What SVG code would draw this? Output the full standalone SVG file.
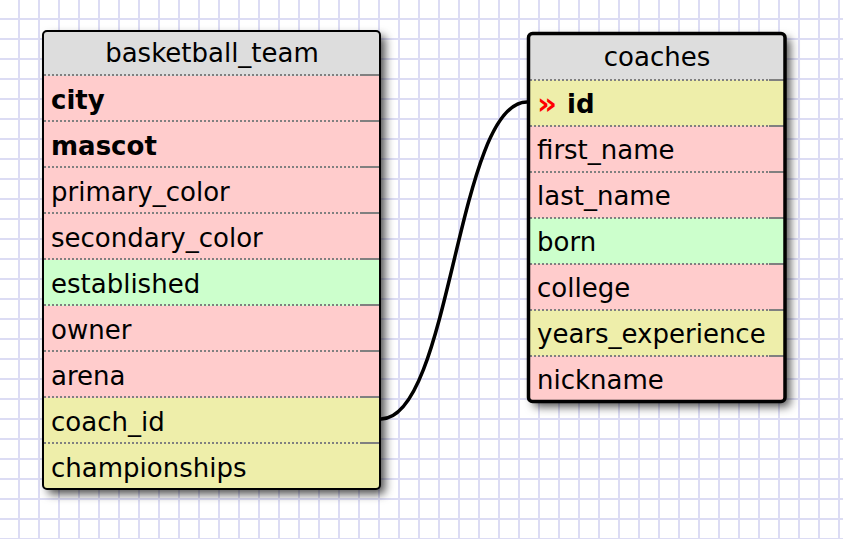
<svg xmlns="http://www.w3.org/2000/svg" width="843" height="539" viewBox="0 0 843 539">
<defs>
<pattern id="grid" x="0" y="0" width="20" height="20" patternUnits="userSpaceOnUse">
<rect width="20" height="20" fill="#ffffff"/>
<path d="M19,0V20M0,19H20" stroke="#dcdcf4" stroke-width="2"/>
</pattern>
<filter id="sh" x="-10%" y="-10%" width="130%" height="130%">
<feDropShadow dx="5" dy="5" stdDeviation="5" flood-color="#000" flood-opacity="0.7"/>
</filter>
<clipPath id="c1"><rect x="43" y="31" width="337" height="458" rx="4"/></clipPath>
<clipPath id="c2"><rect x="528.5" y="33.5" width="256.5" height="368" rx="4"/></clipPath>
</defs>
<style>
.t{font-family:"DejaVu Sans",Verdana,sans-serif;font-size:26px;fill:#000}
.b{font-weight:bold}
.h{text-anchor:middle}
.hd{fill:#dddddd}
.pk{fill:#ffcccc}
.gr{fill:#ccffcc}
.yl{fill:#eeeeaa}
.dot{stroke:#808080;stroke-width:2;stroke-dasharray:2 2;fill:none}
.sol{stroke:#808080;stroke-width:2;fill:none}
.bd{fill:none;stroke:#000}
.con{fill:none;stroke:#000;stroke-width:3.5}
</style>
<rect width="843" height="539" fill="url(#grid)"/>

<g id="basketball_team">
<rect x="43" y="31" width="337" height="458" rx="4" fill="#ffcccc" filter="url(#sh)"/>
<g clip-path="url(#c1)">
<rect class="hd" x="43" y="31" width="337" height="45"/>
<rect class="pk" x="43" y="76" width="337" height="184"/>
<rect class="gr" x="43" y="260" width="337" height="46"/>
<rect class="pk" x="43" y="306" width="337" height="92"/>
<rect class="yl" x="43" y="398" width="337" height="91"/>
</g>
<path class="dot" d="M44,75H360M44,121H360M44,167H360M44,213H360M44,259H360M44,305H360M44,351H360M44,397H360M44,443H360"/>
<path class="sol" d="M360,75H380M360,121H380M360,167H380M360,213H380M360,259H380M360,305H380M360,351H380M360,397H380M360,443H380"/>
<rect class="bd" x="43" y="31" width="337" height="458" rx="4" stroke-width="2"/>
<text class="t h" x="212" y="62">basketball_team</text>
<text class="t b" x="51" y="109">city</text>
<text class="t b" x="51" y="155">mascot</text>
<text class="t" x="51" y="201">primary_color</text>
<text class="t" x="51" y="247">secondary_color</text>
<text class="t" x="51" y="293">established</text>
<text class="t" x="51" y="339">owner</text>
<text class="t" x="51" y="385">arena</text>
<text class="t" x="51" y="431">coach_id</text>
<text class="t" x="51" y="477">championships</text>
</g>

<g id="coaches">
<rect x="528.5" y="33.5" width="256.5" height="368" rx="4" fill="#ffcccc" filter="url(#sh)"/>
<g clip-path="url(#c2)">
<rect class="hd" x="528" y="33" width="258" height="47"/>
<rect class="yl" x="528" y="80" width="258" height="46"/>
<rect class="pk" x="528" y="126" width="258" height="92"/>
<rect class="gr" x="528" y="218" width="258" height="46"/>
<rect class="pk" x="528" y="264" width="258" height="46"/>
<rect class="yl" x="528" y="310" width="258" height="46"/>
<rect class="pk" x="528" y="356" width="258" height="46"/>
</g>
<path class="dot" d="M530,80H769M530,126H769M530,172H769M530,218H769M530,264H769M530,310H769M530,356H769"/>
<path class="sol" d="M769,80H784M769,126H784M769,172H784M769,218H784M769,264H784M769,310H784M769,356H784"/>
<rect class="bd" x="528.5" y="33.5" width="256.5" height="368" rx="4" stroke-width="3.5"/>
<text class="t h" x="657" y="66">coaches</text>
<text class="t b" x="537" y="114" style="fill:#ff0000;font-size:31px">»</text>
<text class="t b" x="567" y="113">id</text>
<text class="t" x="537" y="159">first_name</text>
<text class="t" x="537" y="205">last_name</text>
<text class="t" x="537" y="251">born</text>
<text class="t" x="537" y="297">college</text>
<text class="t" x="537" y="343">years_experience</text>
<text class="t" x="537" y="389">nickname</text>
</g>

<g id="connectors">
<path class="con" d="M381,419C451,419 457,102 527,102"/>
</g>
</svg>
